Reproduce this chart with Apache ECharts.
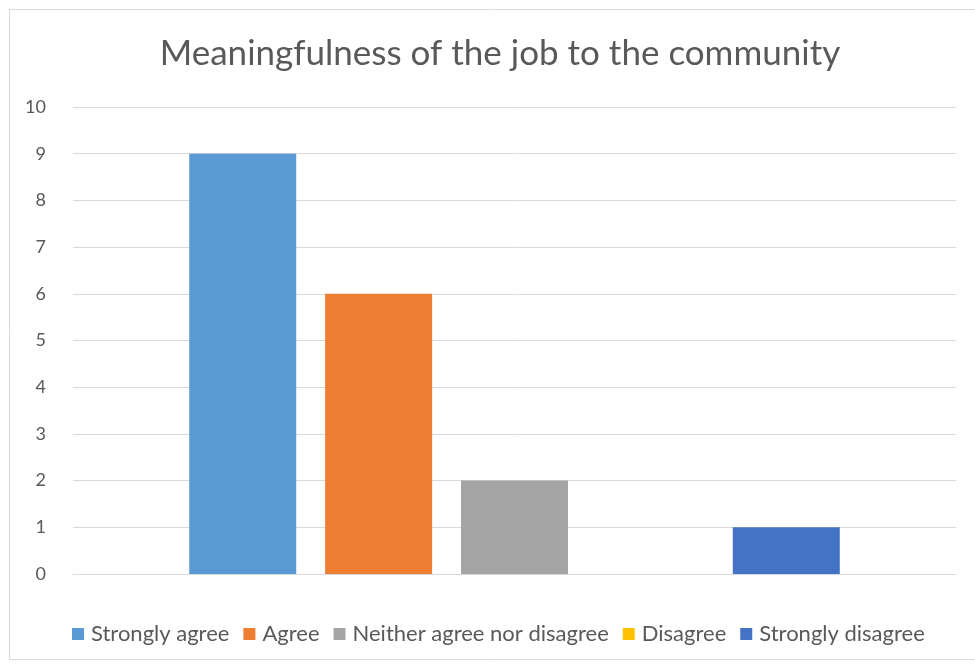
<!DOCTYPE html>
<html><head><meta charset="utf-8">
<script src="https://cdn.jsdelivr.net/npm/echarts@6/dist/echarts.min.js"></script>
<style>html,body{margin:0;padding:0;background:#fff}#c{width:975px;height:664px}</style>
</head><body><div id="c"></div>
<script>
const categories = ['Meaningfulness'];
const seriesNames = ['Strongly agree', 'Agree', 'Neither agree nor disagree', 'Disagree', 'Strongly disagree'];
const seriesValues = [9, 6, 2, 0, 1];
const seriesColors = ['#5B9BD5', '#ED7D31', '#A5A5A5', '#FFC000', '#4472C4'];
const yTicks = [0, 10, 1];

const chart = echarts.init(document.getElementById('c'));
const font = 'Lato, "Open Sans", sans-serif';
chart.setOption({
  animation: false,
  title: {
    text: 'Meaningfulness of the job to the community',
    left: 495, top: 31, textAlign: 'center',
    textStyle: {fontFamily: font, fontSize: 35, fontWeight: 'normal', color: '#595959'}
  },
  graphic: [{type: 'rect', shape: {x: 9.5, y: 9.5, width: 980, height: 650},
    style: {fill: 'none', stroke: '#d9d9d9', lineWidth: 1}, silent: true}],
  legend: {
    data: seriesNames, left: 67, top: 618, itemWidth: 12, itemHeight: 12, itemGap: 14,
    icon: 'rect',
    textStyle: {fontFamily: font, fontSize: 22, color: '#595959', padding: [0, 0, 0, 2]}
  },
  grid: {left: 73, right: 19, top: 107, bottom: 90},
  xAxis: {type: 'category', data: categories, axisLabel: {show: false}, axisTick: {show: false},
    axisLine: {lineStyle: {color: '#d9d9d9'}}},
  yAxis: {type: 'value', min: yTicks[0], max: yTicks[1], interval: yTicks[2],
    axisLine: {show: false}, axisTick: {show: false},
    axisLabel: {fontFamily: font, fontSize: 18, color: '#595959', margin: 27},
    splitLine: {lineStyle: {color: '#d9d9d9'}}},
  series: seriesNames.map((n, i) => ({
    name: n, type: 'bar', data: [seriesValues[i]], barWidth: 107, barGap: '27%',
    itemStyle: {color: seriesColors[i]}
  }))
});
</script></body></html>
